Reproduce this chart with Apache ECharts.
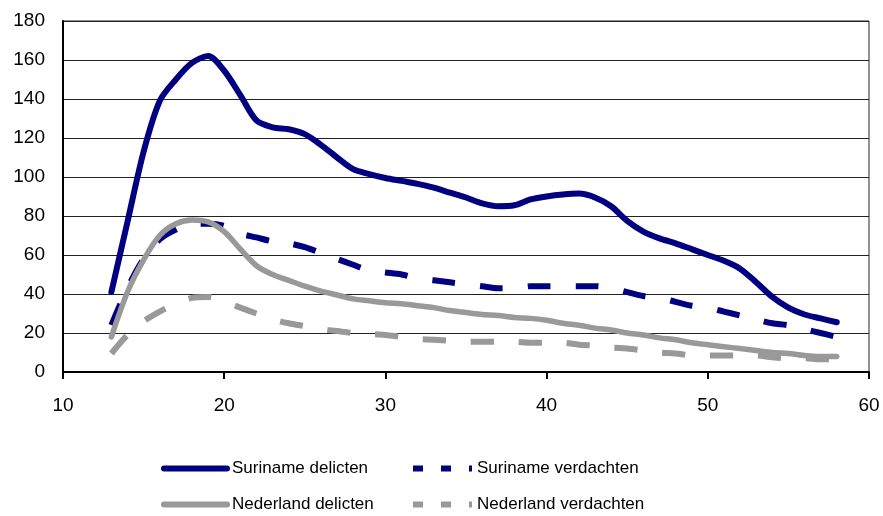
<!DOCTYPE html>
<html>
<head>
<meta charset="utf-8">
<script src="https://cdn.jsdelivr.net/npm/echarts@6/dist/echarts.min.js"></script>
<style>
html,body{margin:0;padding:0;background:#fff;}
#chart{width:883px;height:516px;}
</style>
</head>
<body>
<div id="chart"></div>
<script>
// ages 13..58
var ages = [13,14,15,16,17,18,19,20,21,22,23,24,25,26,27,28,29,30,31,32,33,34,35,36,37,38,39,40,41,42,43,44,45,46,47,48,49,50,51,52,53,54,55,56,57,58];
var surinameDelicten = [41,77,113,139,150,158.5,162,154.5,142,129,125.5,124.5,122,116.5,110,104,101.5,99.5,98,96.5,94.5,92,89.5,86.5,85,85.5,88.5,90,91,91.5,89.5,85,77.5,72,68.5,66,63,60,57,53,46,38.5,33,29.5,27.5,25.5];
var surinameVerdachten = [24,43,58,68,73,76,76,75,71,69,67,66,64,61,58,55,52,51,50,48,47,46,45,44,43,43,44,44,44,44,44,43,41,39,38,36,34,33,31,29,27,25,24,22,20,18];
var nederlandDelicten = [18,41,57.5,70,76,78,77,72,63,54.5,50,47,44,41.5,39.5,37.5,36.5,35.5,35,34,33,31.5,30.5,29.5,29,28,27.5,26.5,25,24,22.5,21.5,20,19,17.5,16.5,15,14,13,12,11,10,9.5,8.5,8,8];
var nederlandVerdachten = [9.5,19,26,31,35,38,38.5,36,33,30,27,25,23.5,22,21,20,19.5,19,18,17,16.5,16,15.5,15.5,15.5,15.5,15,15,15,14,13.5,12.5,12,11,10,9.5,8.5,8.5,8.5,8.5,8.5,7.5,7,7,6.5,6.5];
var seriesNames = ['Suriname delicten','Suriname verdachten','Nederland delicten','Nederland verdachten'];
var xTicks = [10,20,30,40,50,60];
var yTicks = [0,20,40,60,80,100,120,140,160,180];

function pairs(vals){ return ages.map(function(a,i){ return [a, vals[i]]; }); }

var NAVY = '#000080', GRAY = '#999999';
var legendFont = {fontSize:17, color:'#000', fontFamily:"'Liberation Sans',Arial,sans-serif"};
function legendAt(name, left, top, dashed){
  return {
    data:[name], left:left, top:top, orient:'horizontal', padding:0,
    itemWidth: dashed ? 59 : 63, itemHeight:14,
    textStyle: legendFont,
    itemStyle: {opacity:0},
    lineStyle: {width:6, type: dashed ? [10,18] : 'solid', cap: dashed ? 'butt' : 'round'},
    selectedMode:false
  };
}

var chart = echarts.init(document.getElementById('chart'), null, {renderer:'canvas'});
chart.setOption({
  animation:false,
  backgroundColor:'#fff',
  grid:{left:63, right:14, top:21, bottom:144, show:true, borderColor:'#222', borderWidth:1},
  xAxis:{
    type:'value', min:10, max:60, interval:10,
    axisLine:{show:true, lineStyle:{color:'#000', width:2}},
    axisTick:{show:true, length:7, lineStyle:{color:'#000', width:2}},
    axisLabel:{margin:24, fontSize:19, color:'#000', fontFamily:"'Liberation Sans',Arial,sans-serif",
      formatter:function(v){ return xTicks.indexOf(v)>=0 ? String(v) : ''; }},
    splitLine:{show:false}
  },
  yAxis:{
    type:'value', min:0, max:180, interval:20,
    axisLine:{show:true, lineStyle:{color:'#000', width:2}},
    axisTick:{show:false},
    axisLabel:{margin:18, fontSize:19, color:'#000', fontFamily:"'Liberation Sans',Arial,sans-serif",
      formatter:function(v){ return yTicks.indexOf(v)>=0 ? String(v) : ''; }},
    splitLine:{show:true, lineStyle:{color:'#222', width:1}}
  },
  legend:[
    legendAt(seriesNames[0], 161, 460, false),
    legendAt(seriesNames[1], 410, 460, true),
    legendAt(seriesNames[2], 161, 496, false),
    legendAt(seriesNames[3], 410, 496, true)
  ],
  series:[
    {name:seriesNames[0], type:'line', data:pairs(surinameDelicten), smooth:0.3, symbol:'none',
     lineStyle:{color:NAVY, width:6, cap:'round', join:'round'}, itemStyle:{color:NAVY}, z:5},
    {name:seriesNames[1], type:'line', data:pairs(surinameVerdachten), smooth:0.3, symbol:'none',
     lineStyle:{color:NAVY, width:6, type:[23,25], cap:'butt'}, itemStyle:{color:NAVY}, z:2},
    {name:seriesNames[2], type:'line', data:pairs(nederlandDelicten), smooth:0.3, symbol:'none',
     lineStyle:{color:GRAY, width:5.5, cap:'round', join:'round'}, itemStyle:{color:GRAY}, z:3},
    {name:seriesNames[3], type:'line', data:pairs(nederlandVerdachten), smooth:0.3, symbol:'none',
     lineStyle:{color:GRAY, width:6, type:[23,25], cap:'butt'}, itemStyle:{color:GRAY}, z:2}
  ]
});
</script>
</body>
</html>
